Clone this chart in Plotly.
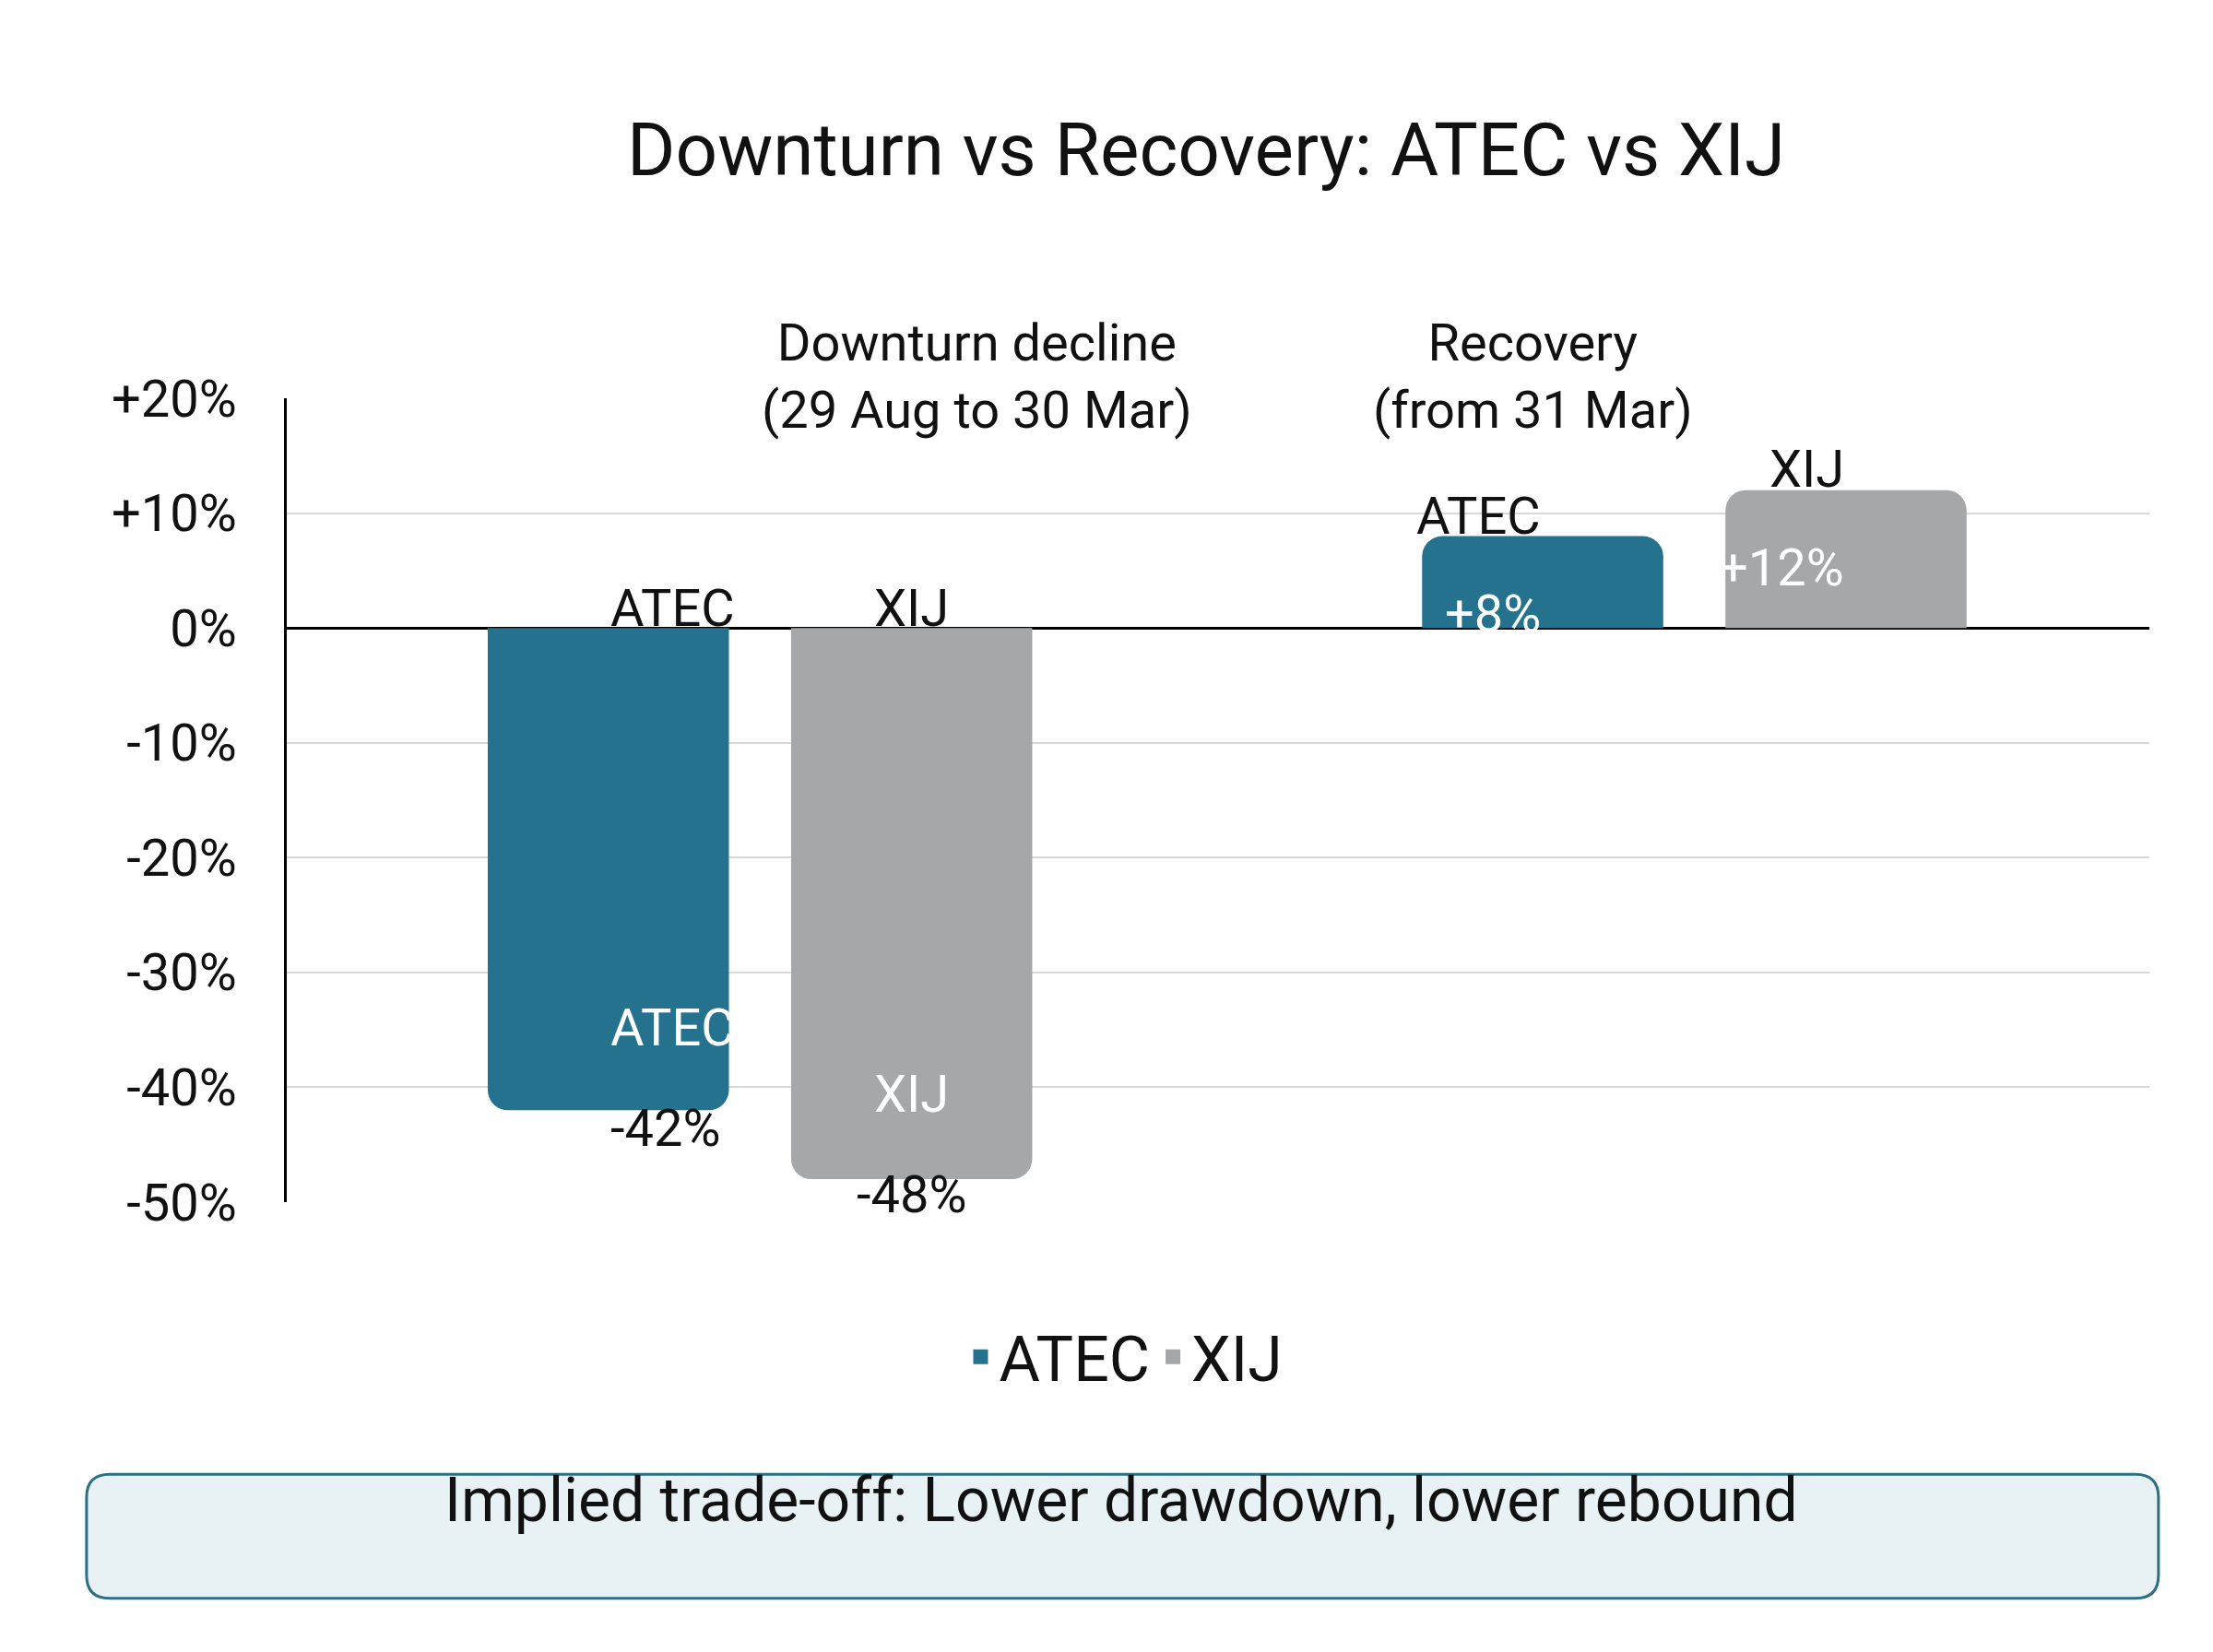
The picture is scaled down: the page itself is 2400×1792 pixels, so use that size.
import plotly.graph_objects as go

tickers = ["ATEC", "XIJ"]
downturn = [-42, -48]
recovery = [8, 12]
colors = ["#25728f", "#a6a7a9"]
y_ticks = [20, 10, 0, -10, -20, -30, -40, -50]
y_ticktext = ["+20%", "+10%", "0%", "-10%", "-20%", "-30%", "-40%", "-50%"]
group_titles = ["Downturn decline<br>(29 Aug to 30 Mar)", "Recovery<br>(from 31 Mar)"]

# bar centre positions (x axis units)
pos_down = [1.03, 2.03]
pos_rec = [4.11, 5.11]
X0, X1 = -0.03, 6.11
Y0, Y1 = -50, 20
FONT = "Roboto"

def px_(x):
    return (x - X0) / (X1 - X0)

def py_(y):
    return (y - Y0) / (Y1 - Y0)

fig = go.Figure()
for i, t in enumerate(tickers):
    fig.add_trace(go.Bar(x=[pos_down[i], pos_rec[i]], y=[downturn[i], recovery[i]],
                         width=0.795, marker=dict(color=colors[i], line=dict(width=0)),
                         name=t, showlegend=False))
    # legend swatch
    fig.add_trace(go.Scatter(x=[None], y=[None], mode="markers", name=t,
                             marker=dict(symbol="square", size=44, color=colors[i])))

ann = []
def a(x, y, text, size=56, color="#111"):
    ann.append(dict(x=px_(x), y=py_(y), text=text, showarrow=False, xref="paper", yref="paper",
                    font=dict(family=FONT, size=size, color=color)))

a(3.0, 45.5, "Downturn vs Recovery: ATEC vs XIJ", size=80)
a((pos_down[0] + pos_down[1]) / 2, 27.6, group_titles[0], size=56)
a((pos_rec[0] + pos_rec[1]) / 2, 27.6, group_titles[1], size=56)

for i, t in enumerate(tickers):
    a(pos_down[i], 4.5, t)
a(pos_down[0], -37.6, tickers[0], color="white")
a(pos_down[1], -43.4, tickers[1], color="white")
a(pos_down[0], -46.4, f"{downturn[0]}%")
a(pos_down[1], -52.2, f"{downturn[1]}%")
a(pos_rec[0], 12.5, tickers[0])
a(pos_rec[1], 16.6, tickers[1])
a(pos_rec[0], 4.0, f"+{recovery[0]}%", color="white")
a(pos_rec[1], 8.0, f"+{recovery[1]}%", color="white")
a(2.72, -79.2, "Implied trade-off: Lower drawdown, lower rebound", size=66)

# rounded callout box (paper coords)
x0, x1, y0, y1 = px_(-0.69), px_(6.14), py_(-84.5), py_(-73.7)
rx, ry = 0.0124, 0.0287
path = (f"M {x0+rx},{y0} L {x1-rx},{y0} Q {x1},{y0} {x1},{y0+ry} L {x1},{y1-ry} "
        f"Q {x1},{y1} {x1-rx},{y1} L {x0+rx},{y1} Q {x0},{y1} {x0},{y1-ry} "
        f"L {x0},{y0+ry} Q {x0},{y0} {x0+rx},{y0} Z")

fig.update_layout(
    width=2400, height=1792,
    margin=dict(l=303, r=77, t=424, b=496),
    paper_bgcolor="white", plot_bgcolor="white",
    barmode="overlay", barcornerradius=22,
    font=dict(family=FONT, color="#111"),
    annotations=ann,
    shapes=[dict(type="path", path=path, xref="paper", yref="paper", layer="below",
                 fillcolor="#e8f1f4", line=dict(color="#2d6f85", width=3))],
    showlegend=True,
    legend=dict(orientation="h", x=0.45, xanchor="center", y=py_(-63.5), yanchor="middle",
                font=dict(family=FONT, size=68), traceorder="normal"),
    xaxis=dict(range=[X0, X1], showgrid=False, showticklabels=False,
               zeroline=False, showline=False),
    yaxis=dict(range=[Y0, Y1], tickvals=y_ticks, ticktext=y_ticktext,
               tickfont=dict(family=FONT, size=56, color="#111"),
               showgrid=True, gridcolor="#d9d9d9", gridwidth=2,
               zeroline=True, zerolinecolor="black", zerolinewidth=3,
               showline=True, linecolor="black", linewidth=3, ticks="", ticklabelstandoff=40),
)

fig.write_html("out.html")
